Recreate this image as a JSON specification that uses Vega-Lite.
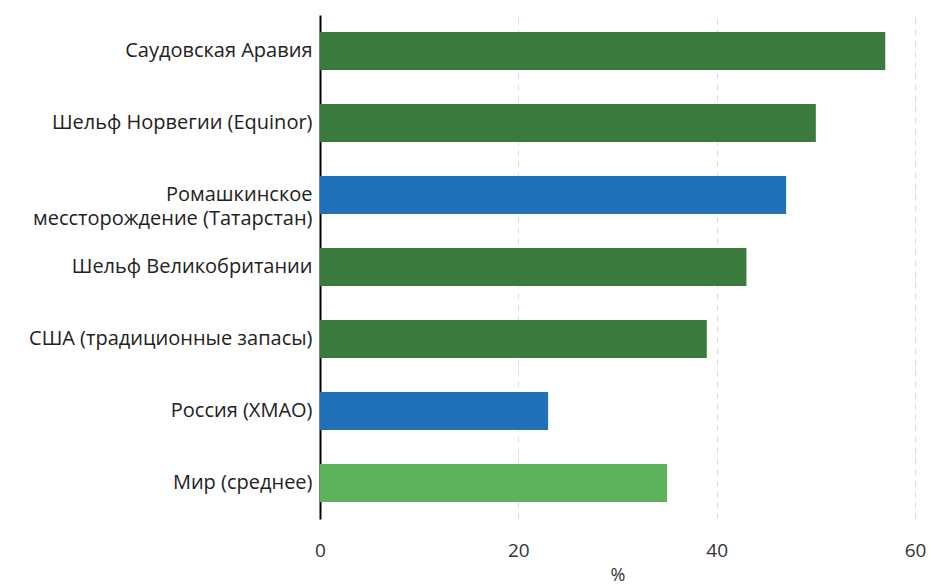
{
  "$schema": "https://vega.github.io/schema/vega-lite/v6.json",
  "width": 595,
  "height": 504,
  "autosize": {"type": "none"},
  "padding": {"left": 320, "top": 15, "right": 18, "bottom": 65},
  "background": "white",
  "data": {
    "values": [
      {"region": "Саудовская Аравия\u00a0", "value": 57, "kind": "foreign"},
      {"region": "Шельф Норвегии (Equinor)", "value": 50, "kind": "foreign"},
      {"region": "Ромашкинское\u00a0\nмессторождение (Татарстан)", "value": 47, "kind": "russia"},
      {"region": "Шельф Великобритании", "value": 43, "kind": "foreign"},
      {"region": "США (традиционные запасы)", "value": 39, "kind": "foreign"},
      {"region": "Россия (ХМАО)", "value": 23, "kind": "russia"},
      {"region": "Мир (среднее)", "value": 35, "kind": "world"}
    ]
  },
  "config": {
    "font": "Open Sans",
    "view": {"stroke": null},
    "axis": {"labelFont": "Open Sans", "titleFont": "Open Sans"}
  },
  "mark": {"type": "bar"},
  "encoding": {
    "y": {
      "field": "region",
      "type": "nominal",
      "sort": null,
      "scale": {"paddingInner": 0.47, "paddingOuter": 0.235},
      "axis": {
        "title": null,
        "labelExpr": "split(datum.label, '\\n')",
        "labelFontSize": 20,
        "labelColor": "#222222",
        "labelPadding": 8,
        "labelLineHeight": 24,
        "labelLimit": 400,
        "ticks": false,
        "domain": true,
        "domainColor": "#000000",
        "domainWidth": 2,
        "grid": false
      }
    },
    "x": {
      "field": "value",
      "type": "quantitative",
      "scale": {"domain": [0, 60], "nice": false},
      "axis": {
        "title": "%",
        "values": [0, 20, 40, 60],
        "labelFlush": false,
        "labelFontSize": 19,
        "labelColor": "#333333",
        "labelPadding": 22,
        "titleFontSize": 18,
        "titleFontWeight": "normal",
        "titleColor": "#333333",
        "titlePadding": 6,
        "ticks": false,
        "domain": false,
        "grid": true,
        "gridColor": "#dddddd",
        "gridDash": [6, 5],
        "gridWidth": 1
      }
    },
    "color": {
      "field": "kind",
      "type": "nominal",
      "scale": {
        "domain": ["foreign", "russia", "world"],
        "range": ["#3b7a3d", "#1f72b7", "#5cb35c"]
      },
      "legend": null
    }
  }
}
